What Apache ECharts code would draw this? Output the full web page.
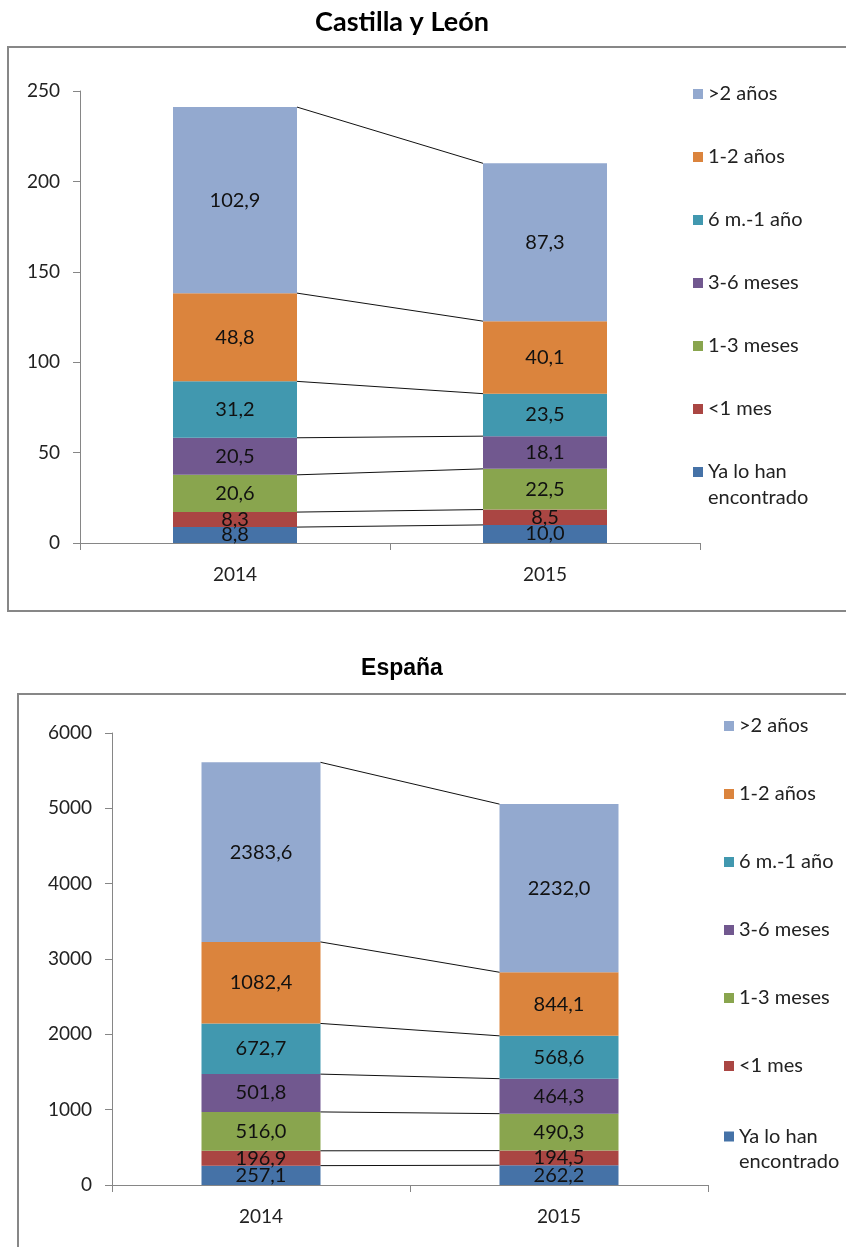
<!DOCTYPE html>
<html>
<head>
<meta charset="utf-8">
<script src="https://cdn.jsdelivr.net/npm/echarts@6/dist/echarts.min.js"></script>
<style>
html,body{margin:0;padding:0;background:#fff;}
#main{width:846px;height:1247px;}
</style>
</head>
<body>
<div id="main"></div>
<script>
// ---- Data ----
const years = ['2014', '2015'];
const seriesNames = ['Ya lo han encontrado', '<1 mes', '1-3 meses', '3-6 meses', '6 m.-1 año', '1-2 años', '>2 años'];
const colors = ['#4572A7', '#AA4643', '#89A54E', '#71588F', '#4198AF', '#DB843D', '#93A9CF'];

// Castilla y León (values per series: [2014, 2015])
const cylYa      = [8.8, 10.0];
const cylMenos1  = [8.3, 8.5];
const cyl1a3     = [20.6, 22.5];
const cyl3a6     = [20.5, 18.1];
const cyl6a12    = [31.2, 23.5];
const cyl1a2     = [48.8, 40.1];
const cylMas2    = [102.9, 87.3];

// España
const espYa      = [257.1, 262.2];
const espMenos1  = [196.9, 194.5];
const esp1a3     = [516.0, 490.3];
const esp3a6     = [501.8, 464.3];
const esp6a12    = [672.7, 568.6];
const esp1a2     = [1082.4, 844.1];
const espMas2    = [2383.6, 2232.0];

const cylTicks = [0, 250, 50];
const espTicks = [0, 6000, 1000];

const cylSeries = [cylYa, cylMenos1, cyl1a3, cyl3a6, cyl6a12, cyl1a2, cylMas2];
const espSeries = [espYa, espMenos1, esp1a3, esp3a6, esp6a12, esp1a2, espMas2];

// ---- Build ----
const FONT = 'Lato';
const fmt = v => v.toFixed(1).replace('.', ',');

function cumulative(list) {
  const out = [];
  let a = 0, b = 0;
  list.forEach(s => { a += s[0]; b += s[1]; out.push([a, b]); });
  return out;
}

function barSeries(list, idx, bw) {
  return list.map((vals, i) => ({
    type: 'bar',
    name: seriesNames[i],
    xAxisIndex: idx, yAxisIndex: idx,
    stack: 'total' + idx,
    barWidth: bw,
    itemStyle: { color: colors[i] },
    label: {
      show: true, position: 'inside', formatter: p => fmt(p.value),
      color: '#111', fontFamily: FONT, fontSize: 20
    },
    data: vals
  }));
}

function connectorSeries(list, idx, bw) {
  return {
    type: 'custom',
    xAxisIndex: idx, yAxisIndex: idx,
    silent: true,
    z: 5,
    data: cumulative(list),
    renderItem: (params, api) => {
      const p1 = api.coord([0, api.value(0)]);
      const p2 = api.coord([1, api.value(1)]);
      return {
        type: 'line',
        shape: { x1: p1[0] + bw / 2, y1: p1[1], x2: p2[0] - bw / 2, y2: p2[1] },
        style: { stroke: '#111', lineWidth: 1 }
      };
    }
  };
}

const legendOrder = seriesNames.slice().reverse();

function axes(idx, ticks) {
  return {
    x: {
      type: 'category', gridIndex: idx, data: years,
      axisLine: { lineStyle: { color: '#868686', width: 1 } },
      axisTick: { show: true, length: 7, lineStyle: { color: '#868686' } },
      axisLabel: { color: '#222', fontFamily: FONT, fontSize: 19, margin: 22 }
    },
    y: {
      type: 'value', gridIndex: idx, min: ticks[0], max: ticks[1], interval: ticks[2],
      splitLine: { show: false },
      axisLine: { show: true, lineStyle: { color: '#868686', width: 1 } },
      axisTick: { show: true, length: 7, lineStyle: { color: '#868686' } },
      axisLabel: { color: '#222', fontFamily: FONT, fontSize: 19, margin: 20, formatter: v => String(v) }
    }
  };
}

const a0 = axes(0, cylTicks), a1 = axes(1, espTicks);

const legendCommon = {
  orient: 'vertical', padding: 0, icon: 'rect', itemWidth: 10, itemHeight: 10,
  itemGap: 0, selectedMode: false
};

const option = {
  animation: false,
  backgroundColor: '#fff',
  title: [
    { text: 'Castilla y León', left: 402, textAlign: 'center', top: 9, padding: 0,
      textStyle: { fontFamily: FONT, fontWeight: 'bold', fontSize: 27, color: '#000' } },
    { text: 'España', left: 402, textAlign: 'center', top: 657, padding: 0,
      textStyle: { fontFamily: 'Liberation Sans', fontWeight: 'bold', fontSize: 23, color: '#000' } }
  ],
  graphic: [
    { type: 'rect', shape: { x: 8, y: 47, width: 850, height: 564 }, style: { fill: 'none', stroke: '#878787', lineWidth: 2 }, silent: true },
    { type: 'rect', shape: { x: 18, y: 694, width: 840, height: 600 }, style: { fill: 'none', stroke: '#878787', lineWidth: 2 }, silent: true }
  ],
  legend: [
    Object.assign({}, legendCommon, {
      data: legendOrder.slice(0, 6), left: 693, top: 84, itemGap: 43,
      textStyle: { fontFamily: FONT, fontSize: 20, color: '#222', lineHeight: 20 }
    }),
    Object.assign({}, legendCommon, {
      data: ['Ya lo han encontrado'], left: 693, top: 472 - 39,
      formatter: () => '\nYa lo han\nencontrado',
      textStyle: { fontFamily: FONT, fontSize: 20, color: '#222', lineHeight: 26 }
    }),
    Object.assign({}, legendCommon, {
      data: legendOrder.slice(0, 6), left: 724, top: 716, itemGap: 48,
      textStyle: { fontFamily: FONT, fontSize: 20, color: '#222', lineHeight: 20 }
    }),
    Object.assign({}, legendCommon, {
      data: ['Ya lo han encontrado'], left: 724, top: 1136 - 37,
      formatter: () => '\nYa lo han\nencontrado',
      textStyle: { fontFamily: FONT, fontSize: 20, color: '#222', lineHeight: 25 }
    })
  ],
  grid: [
    { left: 80, top: 91, width: 620, height: 452, containLabel: false },
    { left: 112, top: 733, width: 596, height: 452, containLabel: false }
  ],
  xAxis: [a0.x, a1.x],
  yAxis: [a0.y, a1.y],
  series: [].concat(
    barSeries(cylSeries, 0, 124),
    [connectorSeries(cylSeries, 0, 124)],
    barSeries(espSeries, 1, 119),
    [connectorSeries(espSeries, 1, 119)]
  )
};

const chart = echarts.init(document.getElementById('main'), null, { renderer: 'canvas' });
chart.setOption(option);
</script>
</body>
</html>
